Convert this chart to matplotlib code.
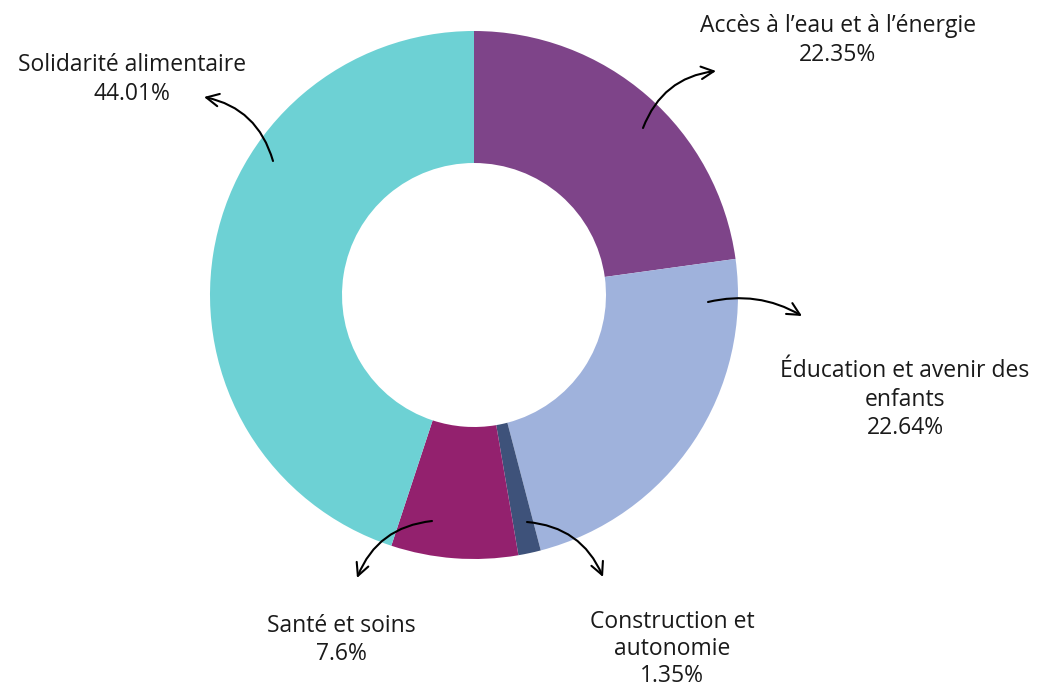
import matplotlib
matplotlib.use("Agg")
import matplotlib.pyplot as plt

categories = ["Accès à l’eau et à l’énergie", "Éducation et avenir des\nenfants",
              "Construction et\nautonomie", "Santé et soins", "Solidarité alimentaire"]
values = [22.35, 22.64, 1.35, 7.6, 44.01]
colors = ["#7E4489", "#9FB2DC", "#3E527A", "#93216E", "#6DD1D4"]

W, H = 1042, 691
fig = plt.figure(figsize=(W / 100, H / 100), dpi=100)
ax = fig.add_axes([0, 0, 1, 1])
plt.rcParams['font.family'] = ['Open Sans', 'DejaVu Sans']

cx, cy, R = 474, H - 295, 264
ax.pie(values, colors=colors, startangle=90, counterclock=False,
       center=(cx, cy), radius=R, wedgeprops=dict(width=R * 0.5, linewidth=0))
ax.set_xlim(0, W)
ax.set_ylim(0, H)
ax.set_aspect('equal')
ax.axis('off')

# layout: (arrow start px, arrow end px, rad, label center x, first baseline y, line step)
layout = [
    ((643, 128), (716, 71), -0.3, 838, 32, 28.5),
    ((708, 302), (802, 316), -0.2, 905, 377, 28.5),
    ((527, 522), (603, 577), -0.3, 672, 628, 27),
    ((432, 521), (357, 578), 0.3, 341, 632, 28.5),
    ((273, 161), (204, 97), 0.3, 132, 71, 28.5),
]

for cat, val, (s, e, rad, lx, ly, step) in zip(categories, values, layout):
    ax.annotate("", xy=(e[0], H - e[1]), xytext=(s[0], H - s[1]),
                arrowprops=dict(arrowstyle="->,head_length=0.9,head_width=0.45",
                                color="black", lw=1.5,
                                connectionstyle=f"arc3,rad={rad}",
                                shrinkA=0, shrinkB=0))
    lines = cat.split("\n") + [f"{val:g}%"]
    for i, line in enumerate(lines):
        ax.text(lx, H - (ly + i * step), line, ha="center", va="baseline",
                fontsize=16.5, color="#1a1a1a")

fig.savefig("out.png", dpi=100)
